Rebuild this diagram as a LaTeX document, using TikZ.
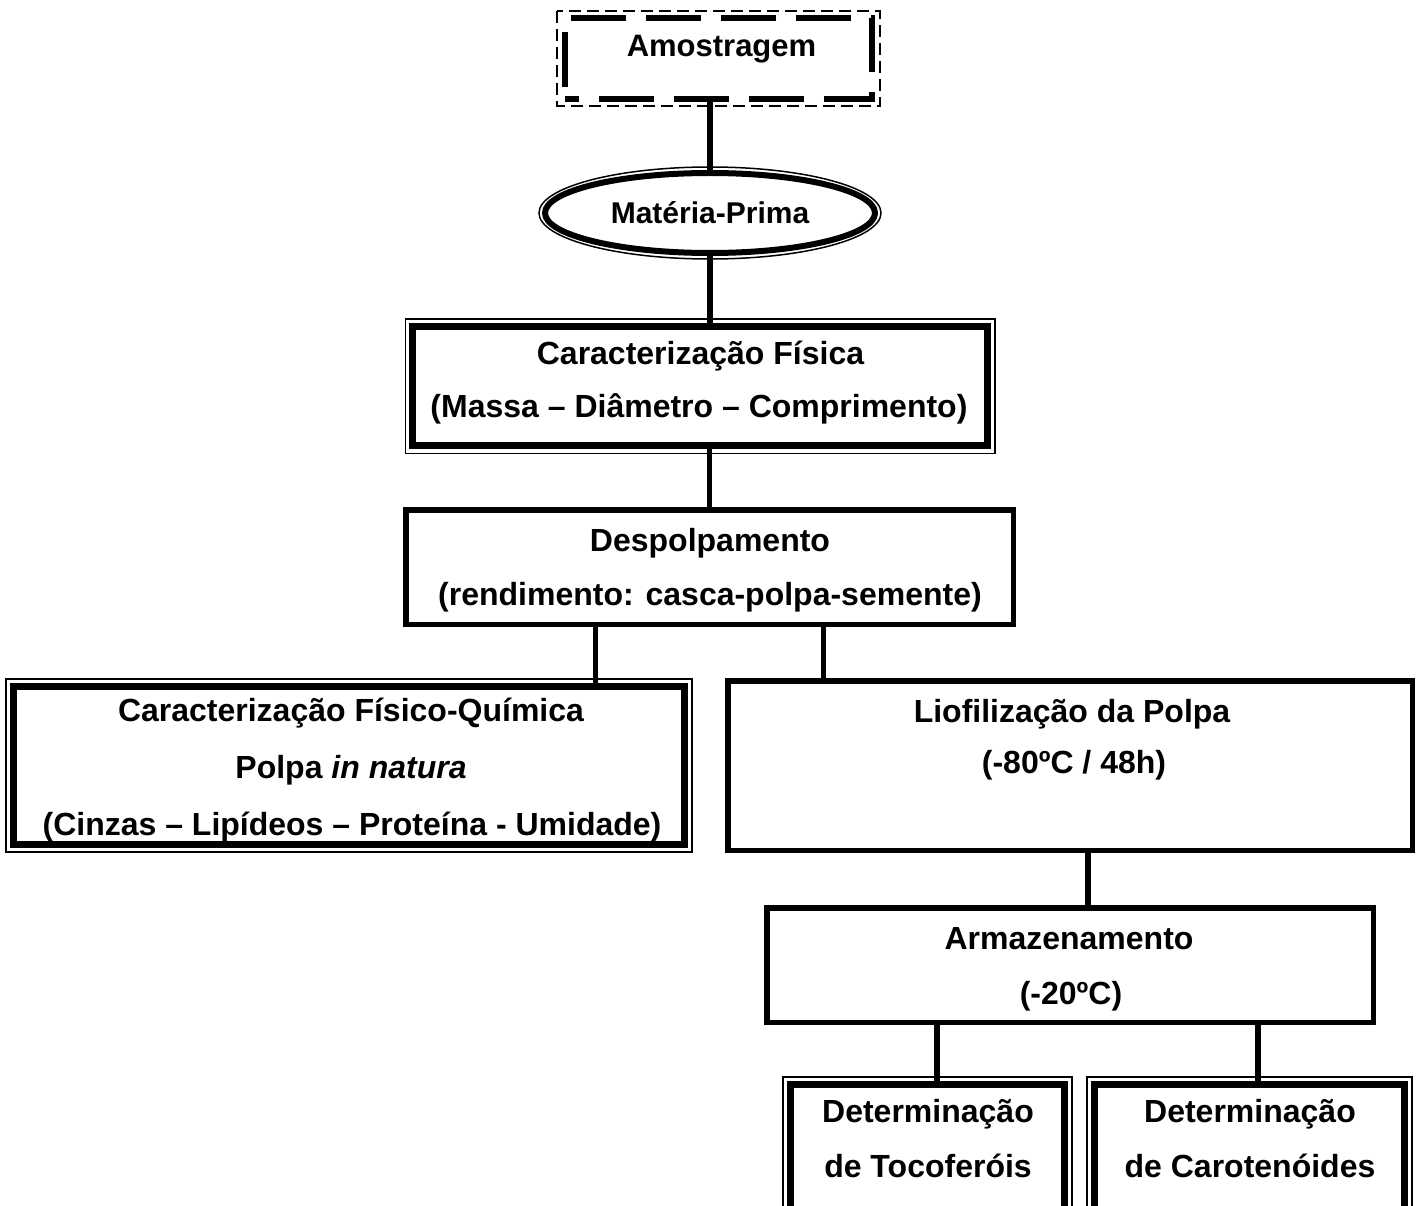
\documentclass[tikz,border=0pt]{standalone}
\usepackage{fontspec}
\setmainfont{Liberation Sans}
\usetikzlibrary{shapes.geometric}
\newcommand{\tfont}{\fontsize{32}{38}\selectfont\bfseries}
\begin{document}
\begin{tikzpicture}[x=1pt,y=-1pt,line join=miter,
  tribox/.style={draw,line width=7pt,inner sep=0pt},
  thickbox/.style={draw,line width=5.5pt,inner sep=0pt},
  thinframe/.style={line width=1.5pt},
  conn/.style={line width=5.5pt},
  txt/.style={anchor=base,inner sep=0pt,font=\tfont}]
\useasboundingbox (0,0) rectangle (1419,1206);
\fill[white] (0,0) rectangle (1419,1206);
\clip (0,0) rectangle (1419,1206);

% Amostragem
\node[draw,line width=6pt,dash pattern=on 55pt off 20pt,dash phase=41.5pt,inner sep=0pt,
  minimum width=307pt,minimum height=80.5pt] (am) at (718.5,58.75) {};
\draw[line width=2pt,dash pattern=on 12pt off 6pt]
  ([shift={(-5pt,4pt)}]am.north west) rectangle ([shift={(4.5pt,-4pt)}]am.south east);
\node[anchor=base,inner sep=0pt,font=\fontsize{31}{37}\selectfont\bfseries] (amt) at (721.5,57) {Amostragem};

% Materia-Prima
\node[draw,ellipse,line width=6pt,inner sep=0pt,minimum width=330pt,minimum height=80pt] (mp) at (710,213) {};
\draw[thinframe] (mp.center) ellipse [x radius=171pt, y radius=46pt];
\node[anchor=base,inner sep=0pt,font=\fontsize{30}{36}\selectfont\bfseries] (mpt) at (710,224) {Matéria-Prima};

% Caracterizacao Fisica
\node[tribox,minimum width=574.7pt,minimum height=119.3pt] (cf) at (700.2,386.2) {};
\node[txt] (cf1) at (700.5,364) {Caracterização Física};
\node[txt] (cf2) at (699,417) {(Massa – Diâmetro – Comprimento)};

% Despolpamento
\node[thickbox,minimum width=607.5pt,minimum height=114.5pt] (dp) at (709.5,567) {};
\node[txt] (dp1) at (710,551) {Despolpamento};
\node[txt] (dp2) at (710,605) {(rendimento: casca-polpa-semente)};

% Caracterizacao Fisico-Quimica
\node[tribox,minimum width=671pt,minimum height=158pt] (cfq) at (349,765.5) {};
\node[txt] (cfq1) at (351,721) {Caracterização Físico-Química};
\node[txt] (cfq2) at (351,778) {Polpa {\itshape in natura}};
\node[txt] (cfq3) at (352,835) {(Cinzas – Lipídeos – Proteína - Umidade)};

% Liofilizacao
\node[thickbox,minimum width=684.5pt,minimum height=169.5pt] (lf) at (1070,765.5) {};
\node[txt] (lf1) at (1072,722) {Liofilização da Polpa};
\node[txt] (lf2) at (1074,773) {(-80ºC / 48h)};

% Armazenamento
\node[thickbox,minimum width=606.5pt,minimum height=114.5pt] (ar) at (1070,965) {};
\node[txt] (ar1) at (1069,949) {Armazenamento};
\node[txt] (ar2) at (1071,1004) {(-20ºC)};

% Determinacoes
\node[tribox,minimum width=274pt,minimum height=155.5pt] (dt) at (927.5,1162.25) {};
\node[txt] (dt1) at (928,1122) {Determinação};
\node[txt] (dt2) at (928,1177) {de Tocoferóis};
\node[tribox,minimum width=310pt,minimum height=155.5pt] (dc) at (1249.5,1162.25) {};
\node[txt] (dc1) at (1250,1122) {Determinação};
\node[txt] (dc2) at (1250,1177) {de Carotenóides};

\foreach \n in {cf,cfq,dt,dc}
  \draw[thinframe] ([shift={(-4pt,4pt)}]\n.north west) rectangle ([shift={(4pt,-4pt)}]\n.south east);

% connectors
\coordinate (j1) at (595.5,0);
\coordinate (j2) at (823.5,0);
\coordinate (j3) at (1088,0);
\coordinate (j4) at (937,0);
\coordinate (j5) at (1258,0);
\draw[conn] (mp.north |- am.south) -- (mp.north);
\draw[conn] (mp.south) -- (mp.south |- cf.north);
\draw[conn] (dp.north |- cf.south) -- (dp.north);
\draw[conn] (dp.south -| j1) -- (cfq.north -| j1);
\draw[conn] (dp.south -| j2) -- (lf.north -| j2);
\draw[conn] (lf.south -| j3) -- (ar.north -| j3);
\draw[conn] (ar.south -| j4) -- (dt.north -| j4);
\draw[conn] (ar.south -| j5) -- (dc.north -| j5);
\end{tikzpicture}
\end{document}
